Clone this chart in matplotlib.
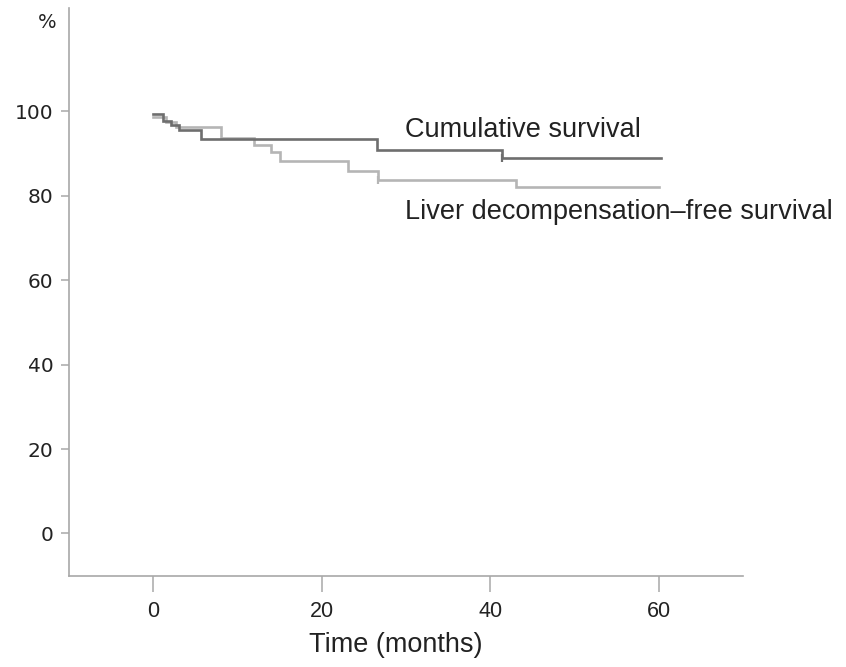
import matplotlib
matplotlib.use("Agg")
import matplotlib.pyplot as plt

# Data (months, survival %)
cum_t = [0, 1.1, 2.1, 3.1, 5.7, 26.5, 41.4, 60.3]
cum_s = [99.4, 97.8, 96.8, 95.6, 93.4, 90.8, 88.9, 88.9]
cum_censor_t = [41.4]
cum_censor_s = [88.9]

liv_t = [0, 1.5, 2.7, 8.1, 12.0, 14.0, 15.0, 23.1, 26.7, 43.0, 60.0]
liv_s = [98.6, 97.6, 96.2, 93.7, 92.0, 90.4, 88.2, 86.0, 83.8, 82.2, 82.2]
liv_censor_t = [26.7]
liv_censor_s = [83.8]

xticks = [0, 20, 40, 60]
yticks = [0, 20, 40, 60, 80, 100]

plt.rcParams['font.family'] = ['Liberation Sans', 'DejaVu Sans']

W, H = 846, 667
fig = plt.figure(figsize=(W / 100, H / 100), dpi=100)
ax = fig.add_axes([69 / W, (H - 575.7) / H, (743 - 69) / W, (575.7 - 8) / H])

dark = '#6e6e6e'
light = '#b5b5b5'
ax.step(liv_t, liv_s, where='post', color=light, lw=1.9, solid_joinstyle='miter')
ax.step(cum_t, cum_s, where='post', color=dark, lw=1.9, solid_joinstyle='miter')
ax.plot(cum_censor_t, cum_censor_s, ls='none', marker='|', ms=6, mew=1.6, color=dark)
ax.plot(liv_censor_t, liv_censor_s, ls='none', marker='|', ms=6, mew=1.6, color=light)

ax.set_xlim(-10, 70)
ax.set_ylim(-10, 124.5)
ax.set_xticks(xticks)
ax.set_yticks(yticks)
for s in ['top', 'right']:
    ax.spines[s].set_visible(False)
for s in ['left', 'bottom']:
    ax.spines[s].set_color('#a8a8a8')
    ax.spines[s].set_linewidth(1.2)
ax.tick_params(axis='x', length=11.5, width=1.1, color='#a8a8a8', pad=7, labelcolor='#222222')
ax.tick_params(axis='y', length=6, width=1.1, color='#a8a8a8', pad=5, labelcolor='#222222')
ax.set_xticklabels([str(v) for v in xticks], fontsize=15.5)
ax.set_yticklabels([str(v) for v in yticks], fontsize=14.5, family=['DejaVu Sans'])

fig.text(396 / W, 1 - 645 / H, 'Time (months)', fontsize=19.5, color='#222222', ha='center', va='center')

ax.text(29.9, 95.6, 'Cumulative survival', fontsize=19.5, color='#222222', va='center', ha='left')
ax.text(29.9, 76.1, 'Liver decompensation\u2013free survival', fontsize=19.5, color='#222222', va='center', ha='left')

fig.text(47 / W, 1 - 22 / H, '%', fontsize=14, color='#222222', ha='center', va='center', family=['DejaVu Sans'])

fig.savefig('out.png', dpi=100)
